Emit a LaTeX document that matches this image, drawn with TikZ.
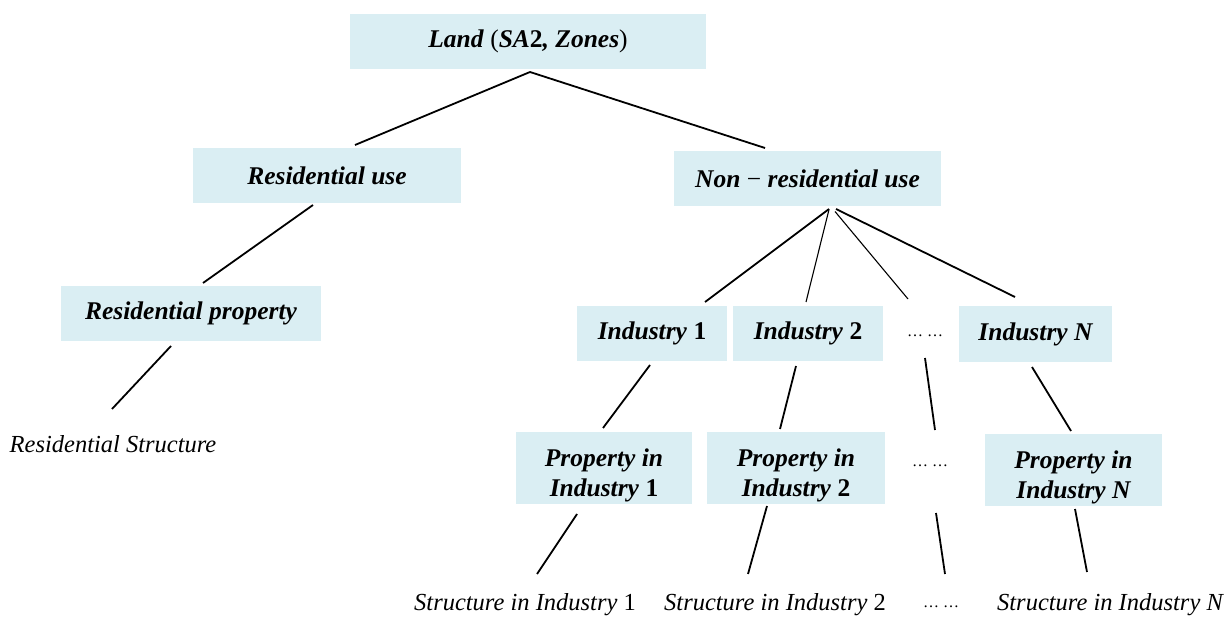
\documentclass[tikz,border=0pt]{standalone}
\usepackage{fontspec}
\setmainfont{Liberation Serif}
\usetikzlibrary{calc}
\definecolor{boxfill}{HTML}{DAEEF3}
\begin{document}
\begin{tikzpicture}[x=1pt,y=-1pt,
  box/.style={rectangle,fill=boxfill,inner sep=0pt,align=center,
    font=\fontsize{25.5}{30}\selectfont\bfseries\itshape},
  boxtext/.style={inner sep=0pt,align=center,
    font=\fontsize{25.5}{30}\selectfont\bfseries\itshape},
  plain/.style={inner sep=0pt,font=\fontsize{24.5}{29}\selectfont\itshape},
  dotsnode/.style={inner sep=0pt,font=\fontsize{16}{20}\selectfont},
  link/.style={line width=1.8pt},
  thinlink/.style={line width=1.1pt}]
\useasboundingbox (0,0) rectangle (1226,617);

% single-line boxes
\node[box,minimum width=356,minimum height=55] (land) at (528,41.5)
  {Land \textup{\mdseries(}SA\textup{2}, Zones\textup{\mdseries)}};
\node[box,minimum width=268,minimum height=55] (resuse) at (327,175.5) {Residential use};
\node[box,minimum width=267,minimum height=55] (nonres) at (807.5,178.5) {Non \textup{\mdseries −} residential use};
\node[box,minimum width=260,minimum height=55] (resprop) at (191,313.5) {Residential property};
\node[box,minimum width=150,minimum height=55] (ind1) at (652,333.5) {Industry \textup{1}};
\node[box,minimum width=150,minimum height=55] (ind2) at (808,333.5) {Industry \textup{2}};
\node[dotsnode] (dots1) at (925,336) {… …};
\node[box,minimum width=153,minimum height=56] (indN) at (1035.5,334) {Industry N};

% two-line boxes: text sits low and is clipped by the box
\node[box,minimum width=176,minimum height=72,
  path picture={\node[boxtext] at ([yshift=-7pt]path picture bounding box.center)
    {Property in\\Industry \textup{1}};}] (prop1) at (604,468) {};
\node[box,minimum width=178,minimum height=72,
  path picture={\node[boxtext] at ([yshift=-7pt]path picture bounding box.center)
    {Property in\\Industry \textup{2}};}] (prop2) at (796,468) {};
\node[dotsnode] (dots2) at (930,466) {… …};
\node[box,minimum width=177,minimum height=72,
  path picture={\node[boxtext] at ([yshift=-7pt]path picture bounding box.center)
    {Property in\\Industry N};}] (propN) at (1073.5,470) {};

% leaf labels
\node[plain] (resstruct) at (113,444) {Residential Structure};
\node[plain] (st1) at (525,605) {Structure in Industry \textup{1}};
\node[plain] (st2) at (775,605) {Structure in Industry \textup{2}};
\node[dotsnode] (dots3) at (941,607) {… …};
\node[plain] (stN) at (1110,605) {Structure in Industry N};

% connectors
\draw[link] ($(land.center)+(2,30.5)$) -- ($(resuse.center)+(28,-30.5)$);
\draw[link] ($(land.center)+(2,30.5)$) -- ($(nonres.center)+(-42.5,-30.5)$);
\draw[link] ($(resuse.center)+(-14,29.5)$) -- ($(resprop.center)+(12,-30.5)$);
\draw[link] ($(resprop.center)+(-20,32.5)$) -- ($(resstruct.center)+(-1,-35)$);

\draw[link] ($(nonres.center)+(21.5,30.5)$) -- ($(ind1.center)+(53,-31.5)$);
\draw[thinlink] ($(nonres.center)+(21.5,31)$) -- ($(ind2.center)+(-2,-31.5)$);
\draw[thinlink] ($(nonres.center)+(27.5,33)$) -- ($(dots1.center)+(-17,-37)$);
\draw[link] ($(nonres.center)+(28.5,30.5)$) -- ($(indN.center)+(-20.5,-37)$);

\draw[link] ($(ind1.center)+(-2,31.5)$) -- ($(prop1.center)+(-1,-40)$);
\draw[link] ($(ind2.center)+(-12,32.5)$) -- ($(prop2.center)+(-16,-39)$);
\draw[link] ($(dots1.center)+(0,22)$) -- ($(dots2.center)+(5,-36)$);
\draw[link] ($(indN.center)+(-3.5,33)$) -- ($(propN.center)+(-2.5,-39)$);

\draw[link] ($(prop1.center)+(-27,46)$) -- ($(st1.center)+(12,-31)$);
\draw[link] ($(prop2.center)+(-29,38)$) -- ($(st2.center)+(-27,-31)$);
\draw[link] ($(dots2.center)+(6,47)$) -- ($(dots3.center)+(4,-33)$);
\draw[link] ($(propN.center)+(1.5,39)$) -- ($(stN.center)+(-23,-33)$);
\end{tikzpicture}
\end{document}
